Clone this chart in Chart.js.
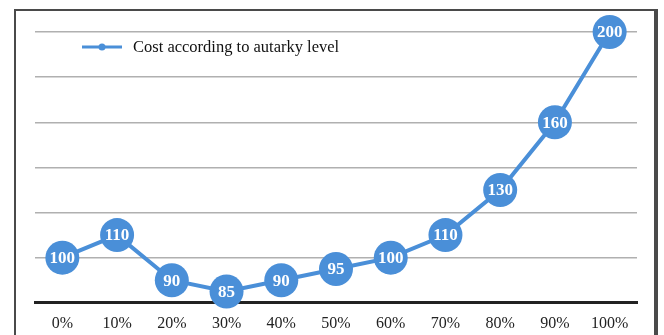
<!DOCTYPE html>
<html>
<head>
<meta charset="utf-8">
<script src="https://cdn.jsdelivr.net/npm/chart.js@4/dist/chart.umd.min.js"></script>
<style>
  html, body { margin: 0; padding: 0; background: #fff; }
  #wrap { position: relative; width: 664px; height: 335px; }
  #frame {
    position: absolute; left: 14px; top: 9px; width: 638px; height: 340px;
    border: 2px solid #4a4a4a; border-right-width: 4px; border-bottom: none;
    pointer-events: none;
  }
</style>
</head>
<body>
<div id="wrap">
  <canvas id="costChart" width="664" height="335"></canvas>
  <div id="frame"></div>
</div>
<script>
const levels = ["0%", "10%", "20%", "30%", "40%", "50%", "60%", "70%", "80%", "90%", "100%"];
const costs = [100, 110, 90, 85, 90, 95, 100, 110, 130, 160, 200];
const seriesName = "Cost according to autarky level";
const blue = "#4a8fd8";

// white numbers inside each marker, plus the hand-drawn legend
const valueLabels = {
  id: "valueLabels",
  afterDatasetsDraw(chart) {
    const ctx = chart.ctx;
    const meta = chart.getDatasetMeta(0);
    ctx.save();
    ctx.font = "bold 17px 'Liberation Serif', serif";
    ctx.fillStyle = "#fff";
    ctx.textAlign = "center";
    ctx.textBaseline = "middle";
    meta.data.forEach((pt, i) => {
      ctx.fillText(String(costs[i]), pt.x, pt.y + 1);
    });

    // legend
    ctx.strokeStyle = blue;
    ctx.lineWidth = 3;
    ctx.beginPath();
    ctx.moveTo(82, 47);
    ctx.lineTo(122, 47);
    ctx.stroke();
    ctx.fillStyle = blue;
    ctx.beginPath();
    ctx.arc(102, 47, 3.5, 0, Math.PI * 2);
    ctx.fill();
    ctx.fillStyle = "#111";
    ctx.font = "16.5px 'Liberation Serif', serif";
    ctx.textAlign = "left";
    ctx.fillText(seriesName, 133, 48);
    ctx.restore();
  }
};

new Chart(document.getElementById("costChart"), {
  type: "line",
  data: {
    labels: levels,
    datasets: [
      {
        label: seriesName,
        data: costs,
        borderColor: blue,
        backgroundColor: blue,
        borderWidth: 4,
        pointRadius: 17,
        pointHoverRadius: 17,
        pointBorderWidth: 0,
        pointBackgroundColor: blue,
        tension: 0,
        clip: false,
      },
    ],
  },
  options: {
    responsive: false,
    animation: false,
    layout: { autoPadding: false, padding: { left: 35, right: 27, top: 32, bottom: -9 } },
    plugins: { legend: { display: false }, tooltip: { enabled: false } },
    scales: {
      x: {
        offset: true,
        grid: { display: false, drawTicks: false },
        border: { color: "#222", width: 3 },
        ticks: {
          color: "#222",
          padding: 11,
          font: { family: "'Liberation Serif', serif", size: 16 },
        },
      },
      y: {
        min: 80,
        max: 200,
        ticks: { display: false, stepSize: 20 },
        border: { display: false },
        grid: {
          drawTicks: false,
          color: (c) => (c.tick && c.tick.value === 80 ? "rgba(0,0,0,0)" : "#b0b0b0"),
          lineWidth: 1.5,
        },
      },
    },
  },
  plugins: [valueLabels],
});
</script>
</body>
</html>
